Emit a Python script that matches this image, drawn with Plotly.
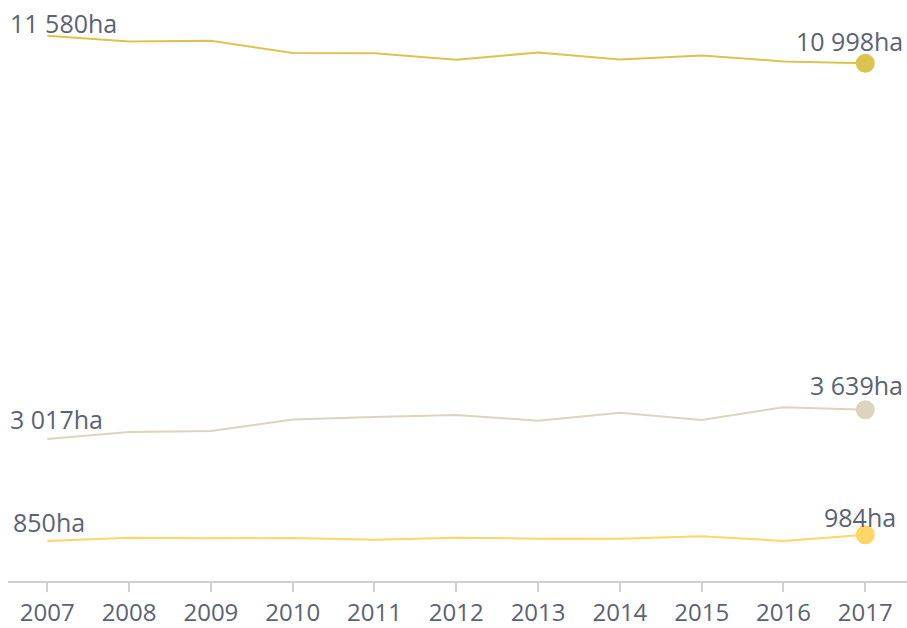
import plotly.graph_objects as go

years = list(range(2007, 2018))
series_a = [11580, 11460, 11475, 11213, 11209, 11071, 11226, 11077, 11162, 11035, 10998]
series_b = [3017, 3166, 3187, 3428, 3485, 3527, 3406, 3576, 3421, 3691, 3639]
series_c = [850, 920, 907, 914, 878, 920, 899, 899, 950, 850, 984]
colors = ["#dcc350", "#ddd4bd", "#fdd665"]
tick_labels = [str(y) for y in years]

text_color = "#5b6373"

def fmt(v):
    s = f"{v:,}".replace(",", " ")
    return s + "ha"

fig = go.Figure()
for vals, col in zip([series_a, series_b, series_c], colors):
    fig.add_trace(go.Scatter(x=years, y=vals, mode="lines", line=dict(color=col, width=2),
                             hoverinfo="skip", showlegend=False))
    fig.add_trace(go.Scatter(x=[years[-1]], y=[vals[-1]], mode="markers",
                             marker=dict(color=col, size=19), hoverinfo="skip", showlegend=False))

# start labels
start_cfg = [(series_a, "left", -39, 13), (series_b, "left", -39, 20), (series_c, "center", 2, 19)]
for vals, anc, xs, ys in start_cfg:
    fig.add_annotation(x=years[0], y=vals[0], text=fmt(vals[0]), showarrow=False,
                       xanchor=anc, yanchor="middle", xshift=xs, yshift=ys,
                       font=dict(family="Open Sans", size=25, color=text_color))
end_cfg = [(series_a, "right", 40, 22), (series_b, "right", 40, 25), (series_c, "center", -5, 18)]
for vals, anc, xs, ys in end_cfg:
    fig.add_annotation(x=years[-1], y=vals[-1], text=fmt(vals[-1]), showarrow=False,
                       xanchor=anc, yanchor="middle", xshift=xs, yshift=ys,
                       font=dict(family="Open Sans", size=25, color=text_color))

fig.update_layout(
    width=907, height=628,
    margin=dict(l=8, r=0, t=16, b=47),
    paper_bgcolor="white", plot_bgcolor="white",
    xaxis=dict(range=[2006.52, 2017.51], tickmode="array", tickvals=years, ticktext=tick_labels,
               showgrid=False, zeroline=False, showline=True, linecolor="#d0d0d0", linewidth=2,
               ticks="outside", ticklen=9, tickwidth=1.5, tickcolor="#d0d0d0",
               tickfont=dict(family="Open Sans", size=24, color=text_color)),
    yaxis=dict(range=[0, 12000], visible=False, showgrid=False, zeroline=False),
)

fig.write_html("out.html", config={"displayModeBar": False},
               post_script="document.body.style.margin='0';document.body.style.overflow='hidden';")
